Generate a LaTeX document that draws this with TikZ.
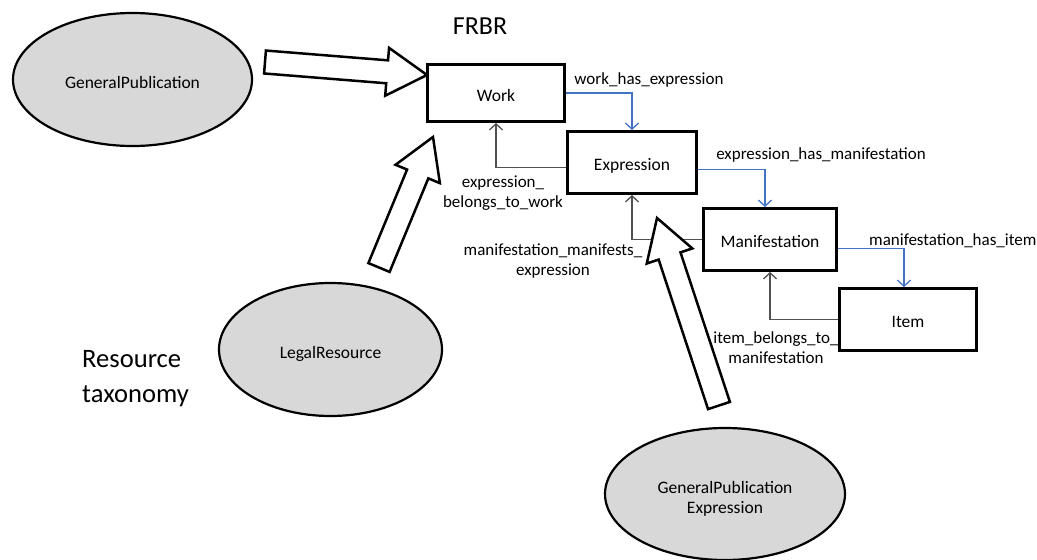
\documentclass[tikz,border=0pt]{standalone}
\usepackage{fontspec}
\setmainfont{Carlito}
\usetikzlibrary{shapes.geometric,arrows.meta,calc}
\definecolor{ellfill}{RGB}{216,216,216}
\definecolor{relblue}{RGB}{68,114,196}
\definecolor{relgray}{RGB}{80,80,80}
\newcommand\blockarrow[2]{%
  \coordinate (ba-h) at ($(#2)!40pt!(#1)$);
  \draw[bigarrow] ($(#1)!11.5pt!90:(#2)$) -- ($(ba-h)!11.5pt!-90:(#1)$) -- ($(ba-h)!24pt!-90:(#1)$) -- (#2)
    -- ($(ba-h)!24pt!90:(#1)$) -- ($(ba-h)!11.5pt!90:(#1)$) -- ($(#1)!11.5pt!-90:(#2)$) -- cycle;}
\tikzset{
  frbrbox/.style={draw=black, line width=3pt, rectangle, inner sep=0pt, text height=16pt, text depth=0pt, font=\fontsize{17.5}{20}\selectfont},
  classell/.style={draw=black, line width=2.2pt, ellipse, fill=ellfill, inner sep=0pt, font=\fontsize{17.5}{20}\selectfont},
  onelinetext/.style={text height=18.2pt, text depth=0pt},
  bigarrow/.style={draw=black, line width=2.5pt, fill=white, line join=miter},
  hasrel/.style={draw=relblue, line width=1.3pt, -{Straight Barb[length=6pt,width=13pt,line width=1.3pt]}},
  belrel/.style={draw=relgray, line width=1.3pt, -{Straight Barb[length=6pt,width=13pt,line width=1.3pt]}},
  rellabel/.style={inner sep=0pt, align=center, font=\fontsize{17}{20}\selectfont},
}
\begin{document}
\begin{tikzpicture}[x=1pt,y=-1pt]
\useasboundingbox (0,0) rectangle (1037,560);
% ellipses
\node[classell, onelinetext, minimum width=239pt, minimum height=133pt] (gp) at (132.5,79.5) {GeneralPublication};
\node[classell, onelinetext, minimum width=223pt, minimum height=133pt] (lr) at (330.5,349.5) {LegalResource};
\node[classell, minimum width=240pt, minimum height=132pt] (gpe) at (725,494) {};
\node[inner sep=0pt, align=center, font=\fontsize{17.5}{20}\selectfont] (gpetext) at (725,499) {GeneralPublication\\Expression};
% titles
\node[inner sep=0pt, font=\fontsize{26}{30}\selectfont] (frbr) at (480,26) {FRBR};
\node[inner sep=0pt, anchor=west, align=left, font=\fontsize{26.6}{35}\selectfont] (tax) at (82,378.5) {Resource\\taxonomy};
% boxes
\node[frbrbox, minimum width=137pt, minimum height=57pt] (work) at (496,93) {Work};
\node[frbrbox, minimum width=129pt, minimum height=62pt] (expr) at (632,162.5) {Expression};
\node[frbrbox, minimum width=133pt, minimum height=62pt] (man) at (770,239.5) {Manifestation};
\node[frbrbox, minimum width=137pt, minimum height=62pt] (item) at (908,319.5) {Item};
% relations
\draw[hasrel] (work.east) -| (expr.north);
\draw[belrel] ([yshift=-5pt]expr.west) -| (work.south);
\draw[hasrel] ([yshift=-7pt]expr.east) -| ([xshift=-5pt]man.north);
\draw[belrel] (man.west) -| (expr.south);
\draw[hasrel] ([yshift=-9pt]man.east) -| ([xshift=-4pt]item.north);
\draw[belrel] (item.west) -| (man.south);
% relation labels
\node[rellabel] (l1) at (649,80) {work\_has\_expression};
\node[rellabel] (l2) at (503,193) {expression\_\\belongs\_to\_work};
\node[rellabel] (l3) at (821,155) {expression\_has\_manifestation};
\node[rellabel] (l4) at (553,261) {manifestation\_manifests\_\\expression};
\node[rellabel, anchor=west] (l5) at (869,241) {manifestation\_has\_item};
\node[rellabel] (l6) at (776,348) {item\_belongs\_to\_\\manifestation};
% big hollow arrows
\coordinate (a1t) at (265,62);   \coordinate (a1h) at (427,75);
\coordinate (a2t) at (379,267.5); \coordinate (a2h) at (433,137);
\coordinate (a3t) at (719,405.5); \coordinate (a3h) at (657,218);
\blockarrow{a1t}{a1h}
\blockarrow{a2t}{a2h}
\blockarrow{a3t}{a3h}
\end{tikzpicture}
\end{document}
